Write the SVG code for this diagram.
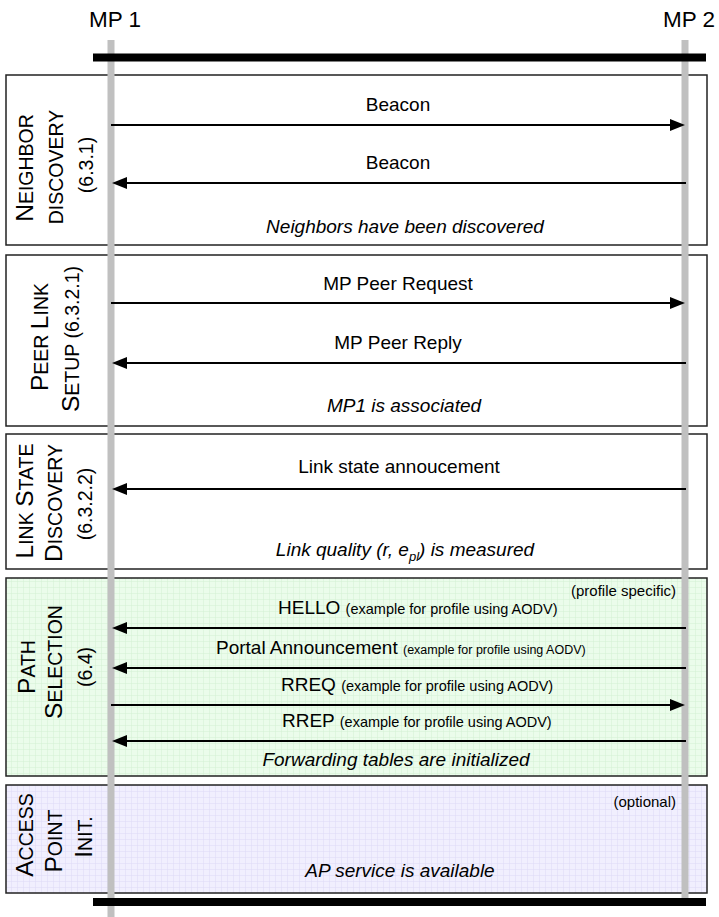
<svg xmlns="http://www.w3.org/2000/svg" width="719" height="917" viewBox="0 0 719 917">
  <style>
    .box { stroke: #222; stroke-width: 1.5; }
    .life { stroke: #c0c0c0; stroke-width: 7; }
    .bar { stroke: #000; stroke-width: 8; }
    .msg { stroke: #000; stroke-width: 2; fill: none; marker-end: url(#head); }
    text { font-family: "Liberation Sans", Arial, sans-serif; fill: #000; }
    .mp { font-size: 22.5px; }
    .lbl { font-size: 19px; text-anchor: middle; }
    .note { font-size: 19px; font-style: italic; text-anchor: middle; }
    .lbl2 { font-size: 19px; }
    .small { font-size: 14.5px; }
    .smaller { font-size: 12.5px; }
    .tag { font-size: 15px; text-anchor: end; }
    .phase { font-size: 19.5px; text-anchor: middle; }
    .cap { font-size: 24.5px; }
  </style>
  <defs>
    <marker id="head" markerUnits="userSpaceOnUse" markerWidth="15" markerHeight="12" refX="5" refY="6" orient="auto">
      <path d="M0,0 L15,6 L0,12 z" fill="#000"/>
    </marker>
    <pattern id="gridGreen" width="6" height="6" patternUnits="userSpaceOnUse">
      <rect width="6" height="6" fill="#ebfceb"/>
      <path d="M6,0 V6 M0,6 H6" stroke="#d3f0d3" stroke-width="1"/>
    </pattern>
    <pattern id="gridViolet" width="6" height="6" patternUnits="userSpaceOnUse">
      <rect width="6" height="6" fill="#f1effe"/>
      <path d="M6,0 V6 M0,6 H6" stroke="#dddaf6" stroke-width="1"/>
    </pattern>
  </defs>

  <!-- phase boxes -->
  <g id="neighbor-discovery">
    <rect class="box" x="6" y="75" width="701" height="170" fill="#fff"/>
  </g>
  <g id="peer-link-setup">
    <rect class="box" x="6" y="255" width="701" height="171" fill="#fff"/>
  </g>
  <g id="link-state-discovery">
    <rect class="box" x="6" y="434" width="701" height="135" fill="#fff"/>
  </g>
  <g id="path-selection">
    <rect class="box" x="6" y="578" width="701" height="198" fill="url(#gridGreen)"/>
  </g>
  <g id="access-point-init">
    <rect class="box" x="6" y="785" width="701" height="108" fill="url(#gridViolet)"/>
  </g>

  <!-- lifelines -->
  <g id="mp1">
    <line class="life" x1="111" y1="40" x2="111" y2="917"/>
    <text class="mp" x="89" y="27">MP 1</text>
  </g>
  <g id="mp2">
    <line class="life" x1="685" y1="40" x2="685" y2="898"/>
    <text class="mp" x="715" y="27" text-anchor="end">MP 2</text>
  </g>

  <!-- messages -->
  <g id="connectors">
    <line class="msg" x1="111" y1="125" x2="675" y2="125"/>
    <line class="msg" x1="686" y1="183" x2="122" y2="183"/>
    <line class="msg" x1="111" y1="303" x2="675" y2="303"/>
    <line class="msg" x1="686" y1="363" x2="122" y2="363"/>
    <line class="msg" x1="686" y1="489" x2="122" y2="489"/>
    <line class="msg" x1="686" y1="628" x2="122" y2="628"/>
    <line class="msg" x1="686" y1="668" x2="122" y2="668"/>
    <line class="msg" x1="111" y1="705" x2="675" y2="705"/>
    <line class="msg" x1="686" y1="741" x2="122" y2="741"/>
  </g>

  <!-- top and bottom bars -->
  <line class="bar" x1="93" y1="57.5" x2="706" y2="57.5"/>
  <line class="bar" x1="93" y1="902" x2="706" y2="902"/>

  <!-- message labels -->
  <g id="labels">
    <text class="lbl" x="398" y="111">Beacon</text>
    <text class="lbl" x="398" y="169">Beacon</text>
    <text class="note" x="405" y="233">Neighbors have been discovered</text>

    <text class="lbl" x="398" y="290">MP Peer Request</text>
    <text class="lbl" x="398" y="349">MP Peer Reply</text>
    <text class="note" x="404" y="412">MP1 is associated</text>

    <text class="lbl" x="399" y="473">Link state annoucement</text>
    <text class="note" x="405" y="556">Link quality (r, e<tspan font-size="13px" dy="5">pl</tspan><tspan dy="-5">) is measured</tspan></text>

    <text class="tag" x="676" y="596">(profile specific)</text>
    <text class="lbl2" x="278" y="614">HELLO <tspan class="small">(example for profile using AODV)</tspan></text>
    <text class="lbl2" x="216" y="654">Portal Announcement <tspan class="smaller">(example for profile using AODV)</tspan></text>
    <text class="lbl2" x="281" y="691">RREQ <tspan class="small">(example for profile using AODV)</tspan></text>
    <text class="lbl2" x="282" y="727">RREP <tspan class="small">(example for profile using AODV)</tspan></text>
    <text class="note" x="396" y="766">Forwarding tables are initialized</text>

    <text class="tag" x="676" y="807">(optional)</text>
    <text class="note" x="400" y="877">AP service is available</text>
  </g>

  <!-- phase titles, rotated -->
  <g id="phase-titles">
    <text class="phase" transform="translate(33,168) rotate(-90)"><tspan class="cap">N</tspan>EIGHBOR</text>
    <text class="phase" transform="translate(63,167) rotate(-90)">DISCOVERY</text>
    <text class="phase" transform="translate(93,165) rotate(-90)">(6.3.1)</text>

    <text class="phase" transform="translate(48,337) rotate(-90)"><tspan class="cap">P</tspan>EER <tspan class="cap">L</tspan>INK</text>
    <text class="phase" transform="translate(79,339) rotate(-90)"><tspan class="cap">S</tspan>ETUP (6.3.2.1)</text>

    <text class="phase" transform="translate(33,501) rotate(-90)"><tspan class="cap">L</tspan>INK <tspan class="cap">S</tspan>TATE</text>
    <text class="phase" transform="translate(62,503) rotate(-90)"><tspan class="cap">D</tspan>ISCOVERY</text>
    <text class="phase" transform="translate(92,504) rotate(-90)">(6.3.2.2)</text>

    <text class="phase" transform="translate(35,667) rotate(-90)"><tspan class="cap">P</tspan>ATH</text>
    <text class="phase" transform="translate(62,662) rotate(-90)"><tspan class="cap">S</tspan>ELECTION</text>
    <text class="phase" transform="translate(92,667) rotate(-90)">(6.4)</text>

    <text class="phase" transform="translate(33,835) rotate(-90)"><tspan class="cap">A</tspan>CCESS</text>
    <text class="phase" transform="translate(62,841) rotate(-90)"><tspan class="cap">P</tspan>OINT</text>
    <text class="phase" transform="translate(92,837) rotate(-90)"><tspan class="cap">I</tspan>NIT.</text>
  </g>
</svg>
